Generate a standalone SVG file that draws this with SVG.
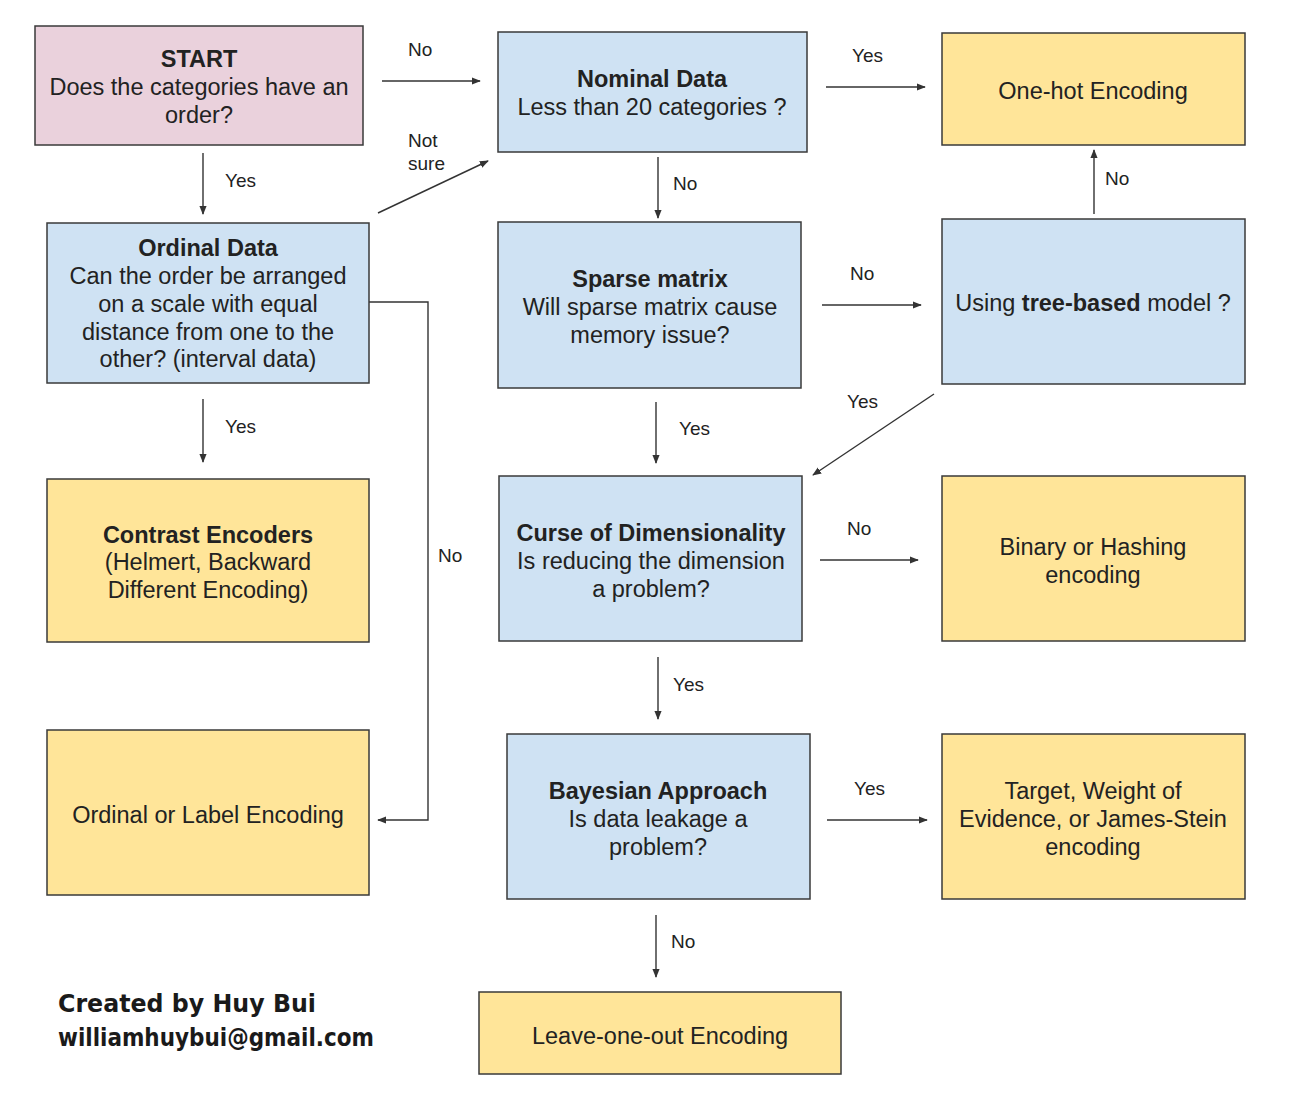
<svg xmlns="http://www.w3.org/2000/svg" width="1292" height="1100" viewBox="0 0 1292 1100">
<style>
.box{stroke:#3a3a3a;stroke-width:1.5}
.pink{fill:#ead1dc}.blue{fill:#cfe2f3}.yellow{fill:#ffe599}
text{font-family:"Liberation Sans",Arial,sans-serif;fill:#222}
.t{font-size:23.5px;text-anchor:middle}
.b{font-weight:bold}
.lbl{font-size:19px}
.cn{stroke:#333;stroke-width:1.4;fill:none;marker-end:url(#ah)}
.sig{font-family:"DejaVu Sans",sans-serif;font-weight:bold;font-size:25px;fill:#1a1a1a}
</style>
<defs>
<marker id="ah" viewBox="0 0 10 10" refX="9" refY="5" markerWidth="9" markerHeight="9" orient="auto" markerUnits="userSpaceOnUse">
<path d="M0,1 L10,5 L0,9 z" fill="#333"/>
</marker>
</defs>
<rect width="1292" height="1100" fill="#fff"/>

<g id="connectors">
<line class="cn" x1="382" y1="81" x2="480" y2="81"/>
<line class="cn" x1="203" y1="153" x2="203" y2="214"/>
<line class="cn" x1="378" y1="213" x2="488" y2="161"/>
<line class="cn" x1="826" y1="87" x2="925" y2="87"/>
<line class="cn" x1="658" y1="157" x2="658" y2="218"/>
<polyline class="cn" points="369,302 428,302 428,820 378,820"/>
<line class="cn" x1="203" y1="399" x2="203" y2="462"/>
<line class="cn" x1="822" y1="305" x2="921" y2="305"/>
<line class="cn" x1="1094" y1="214" x2="1094" y2="150"/>
<line class="cn" x1="934" y1="394" x2="813" y2="475"/>
<line class="cn" x1="656" y1="402" x2="656" y2="463"/>
<line class="cn" x1="820" y1="560" x2="918" y2="560"/>
<line class="cn" x1="658" y1="657" x2="658" y2="719"/>
<line class="cn" x1="827" y1="820" x2="927" y2="820"/>
<line class="cn" x1="656" y1="915" x2="656" y2="977"/>
<text class="lbl" x="408" y="56">No</text>
<text class="lbl" x="225" y="187">Yes</text>
<text class="lbl" x="408" y="147">Not</text>
<text class="lbl" x="408" y="170">sure</text>
<text class="lbl" x="852" y="62">Yes</text>
<text class="lbl" x="673" y="190">No</text>
<text class="lbl" x="438" y="562">No</text>
<text class="lbl" x="225" y="433">Yes</text>
<text class="lbl" x="850" y="280">No</text>
<text class="lbl" x="1105" y="185">No</text>
<text class="lbl" x="847" y="408">Yes</text>
<text class="lbl" x="679" y="435">Yes</text>
<text class="lbl" x="847" y="535">No</text>
<text class="lbl" x="673" y="691">Yes</text>
<text class="lbl" x="854" y="795">Yes</text>
<text class="lbl" x="671" y="948">No</text>
</g>

<g id="start">
<rect class="box pink" x="35" y="26" width="328" height="119"/>
<text class="t b" x="199" y="67">START</text>
<text class="t" x="199" y="95">Does the categories have an</text>
<text class="t" x="199" y="123">order?</text>
</g>
<g id="nominal">
<rect class="box blue" x="498" y="32" width="309" height="120"/>
<text class="t b" x="652" y="87">Nominal Data</text>
<text class="t" x="652" y="115">Less than 20 categories ?</text>
</g>
<g id="onehot">
<rect class="box yellow" x="942" y="33" width="303" height="112"/>
<text class="t" x="1093" y="99">One-hot Encoding</text>
</g>
<g id="ordinal">
<rect class="box blue" x="47" y="223" width="322" height="160"/>
<text class="t b" x="208" y="256">Ordinal Data</text>
<text class="t" x="208" y="284">Can the order be arranged</text>
<text class="t" x="208" y="312">on a scale with equal</text>
<text class="t" x="208" y="340">distance from one to the</text>
<text class="t" x="208" y="367">other? (interval data)</text>
</g>
<g id="sparse">
<rect class="box blue" x="498" y="222" width="303" height="166"/>
<text class="t b" x="650" y="287">Sparse matrix</text>
<text class="t" x="650" y="315">Will sparse matrix cause</text>
<text class="t" x="650" y="343">memory issue?</text>
</g>
<g id="tree">
<rect class="box blue" x="942" y="219" width="303" height="165"/>
<text class="t" x="1093" y="311">Using <tspan class="b">tree-based</tspan> model ?</text>
</g>
<g id="contrast">
<rect class="box yellow" x="47" y="479" width="322" height="163"/>
<text class="t b" x="208" y="543">Contrast Encoders</text>
<text class="t" x="208" y="570">(Helmert, Backward</text>
<text class="t" x="208" y="598">Different Encoding)</text>
</g>
<g id="curse">
<rect class="box blue" x="499" y="476" width="303" height="165"/>
<text class="t b" x="651" y="541">Curse of Dimensionality</text>
<text class="t" x="651" y="569">Is reducing the dimension</text>
<text class="t" x="651" y="597">a problem?</text>
</g>
<g id="binary">
<rect class="box yellow" x="942" y="476" width="303" height="165"/>
<text class="t" x="1093" y="555">Binary or Hashing</text>
<text class="t" x="1093" y="583">encoding</text>
</g>
<g id="label">
<rect class="box yellow" x="47" y="730" width="322" height="165"/>
<text class="t" x="208" y="823">Ordinal or Label Encoding</text>
</g>
<g id="bayesian">
<rect class="box blue" x="507" y="734" width="303" height="165"/>
<text class="t b" x="658" y="799">Bayesian Approach</text>
<text class="t" x="658" y="827">Is data leakage a</text>
<text class="t" x="658" y="855">problem?</text>
</g>
<g id="target">
<rect class="box yellow" x="942" y="734" width="303" height="165"/>
<text class="t" x="1093" y="799">Target, Weight of</text>
<text class="t" x="1093" y="827">Evidence, or James-Stein</text>
<text class="t" x="1093" y="855">encoding</text>
</g>
<g id="leave">
<rect class="box yellow" x="479" y="992" width="362" height="82"/>
<text class="t" x="660" y="1044">Leave-one-out Encoding</text>
</g>
<g id="credit">
<text class="sig" x="58" y="1012" textLength="258" lengthAdjust="spacingAndGlyphs">Created by Huy Bui</text>
<text class="sig" x="58" y="1046" textLength="316" lengthAdjust="spacingAndGlyphs">williamhuybui@gmail.com</text>
</g>
</svg>
